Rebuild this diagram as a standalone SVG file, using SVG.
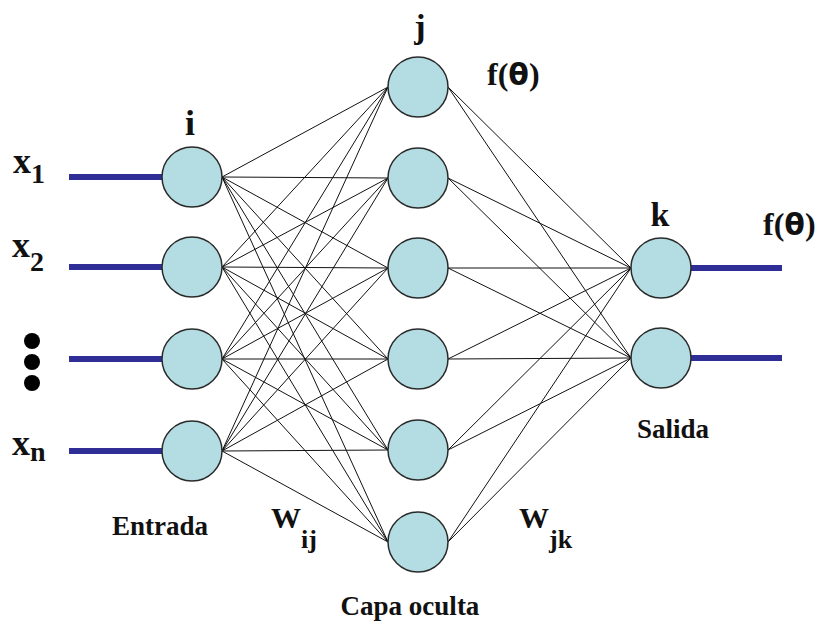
<svg xmlns="http://www.w3.org/2000/svg" width="836" height="624" viewBox="0 0 836 624">
<style>
.node{fill:#b3dde2;stroke:#2a2a2a;stroke-width:1.5}
.w{stroke:#111;stroke-width:1;fill:none}
.io{stroke:#2e2e96;stroke-width:6;fill:none}
.t{font-family:"Liberation Serif",serif;font-weight:bold;fill:#111}
.th{font-family:"DejaVu Sans",sans-serif;font-weight:bold}
</style>
<rect width="836" height="624" fill="#fff"/>
<g id="connectors">
<g id="io-lines">
<line class="io" x1="69" y1="177" x2="162" y2="177"/>
<line class="io" x1="69" y1="267" x2="162" y2="267"/>
<line class="io" x1="69" y1="359" x2="162" y2="359"/>
<line class="io" x1="69" y1="451" x2="162" y2="451"/>
<line class="io" x1="691" y1="268" x2="782" y2="268"/>
<line class="io" x1="691" y1="358" x2="782" y2="358"/>
</g>
<g id="wij">
<line class="w" x1="222" y1="177" x2="388" y2="87"/><line class="w" x1="222" y1="177" x2="388" y2="178"/><line class="w" x1="222" y1="177" x2="388" y2="268"/><line class="w" x1="222" y1="177" x2="388" y2="359"/><line class="w" x1="222" y1="177" x2="388" y2="450"/><line class="w" x1="222" y1="177" x2="388" y2="542"/>
<line class="w" x1="222" y1="267" x2="388" y2="87"/><line class="w" x1="222" y1="267" x2="388" y2="178"/><line class="w" x1="222" y1="267" x2="388" y2="268"/><line class="w" x1="222" y1="267" x2="388" y2="359"/><line class="w" x1="222" y1="267" x2="388" y2="450"/><line class="w" x1="222" y1="267" x2="388" y2="542"/>
<line class="w" x1="222" y1="359" x2="388" y2="87"/><line class="w" x1="222" y1="359" x2="388" y2="178"/><line class="w" x1="222" y1="359" x2="388" y2="268"/><line class="w" x1="222" y1="359" x2="388" y2="359"/><line class="w" x1="222" y1="359" x2="388" y2="450"/><line class="w" x1="222" y1="359" x2="388" y2="542"/>
<line class="w" x1="222" y1="451" x2="388" y2="87"/><line class="w" x1="222" y1="451" x2="388" y2="178"/><line class="w" x1="222" y1="451" x2="388" y2="268"/><line class="w" x1="222" y1="451" x2="388" y2="359"/><line class="w" x1="222" y1="451" x2="388" y2="450"/><line class="w" x1="222" y1="451" x2="388" y2="542"/>
</g>
<g id="wjk">
<line class="w" x1="448" y1="87" x2="631" y2="268"/><line class="w" x1="448" y1="87" x2="631" y2="358"/>
<line class="w" x1="448" y1="178" x2="631" y2="268"/><line class="w" x1="448" y1="178" x2="631" y2="358"/>
<line class="w" x1="448" y1="268" x2="631" y2="268"/><line class="w" x1="448" y1="268" x2="631" y2="358"/>
<line class="w" x1="448" y1="359" x2="631" y2="268"/><line class="w" x1="448" y1="359" x2="631" y2="358"/>
<line class="w" x1="448" y1="450" x2="631" y2="268"/><line class="w" x1="448" y1="450" x2="631" y2="358"/>
<line class="w" x1="448" y1="542" x2="631" y2="268"/><line class="w" x1="448" y1="542" x2="631" y2="358"/>
</g>
</g>
<g id="input-nodes">
<g id="i1"><circle class="node" cx="192" cy="177" r="30"/></g>
<g id="i2"><circle class="node" cx="192" cy="267" r="30"/></g>
<g id="i3"><circle class="node" cx="192" cy="359" r="30"/></g>
<g id="i4"><circle class="node" cx="192" cy="451" r="30"/></g>
</g>
<g id="hidden-nodes">
<g id="h1"><circle class="node" cx="418" cy="87" r="30"/></g>
<g id="h2"><circle class="node" cx="418" cy="178" r="30"/></g>
<g id="h3"><circle class="node" cx="418" cy="268" r="30"/></g>
<g id="h4"><circle class="node" cx="418" cy="359" r="30"/></g>
<g id="h5"><circle class="node" cx="418" cy="450" r="30"/></g>
<g id="h6"><circle class="node" cx="418" cy="542" r="30"/></g>
</g>
<g id="output-nodes">
<g id="o1"><circle class="node" cx="661" cy="268" r="30"/></g>
<g id="o2"><circle class="node" cx="661" cy="358" r="30"/></g>
</g>
<g id="dots" fill="#000">
<circle cx="32" cy="341" r="8"/><circle cx="32" cy="362" r="8"/><circle cx="32" cy="383" r="8"/>
</g>
<g id="labels">
<text class="t" x="13" y="173" font-size="36">x<tspan font-size="28" dy="10">1</tspan></text>
<text class="t" x="12" y="257" font-size="36">x<tspan font-size="28" dy="14">2</tspan></text>
<text class="t" x="12" y="455" font-size="36">x<tspan font-size="28" dy="6">n</tspan></text>
<text class="t" x="190" y="135" font-size="36" text-anchor="middle">i</text>
<text class="t" x="420" y="38" font-size="34" text-anchor="middle">j</text>
<text class="t" x="660" y="226" font-size="34" text-anchor="middle">k</text>
<text class="t" x="487" y="85" font-size="32">f(<tspan class="th" font-size="30">θ</tspan>)</text>
<text class="t" x="763" y="235" font-size="32">f(<tspan class="th" font-size="30">θ</tspan>)</text>
<text class="t" x="673" y="438" font-size="27" text-anchor="middle">Salida</text>
<text class="t" x="160" y="535" font-size="27" text-anchor="middle">Entrada</text>
<text class="t" x="410" y="615" font-size="27" text-anchor="middle">Capa oculta</text>
<text class="t" x="271" y="528" font-size="30">W<tspan font-size="26" dy="20">ij</tspan></text>
<text class="t" x="519" y="528" font-size="30">W<tspan font-size="26" dy="20">jk</tspan></text>
</g>
</svg>
